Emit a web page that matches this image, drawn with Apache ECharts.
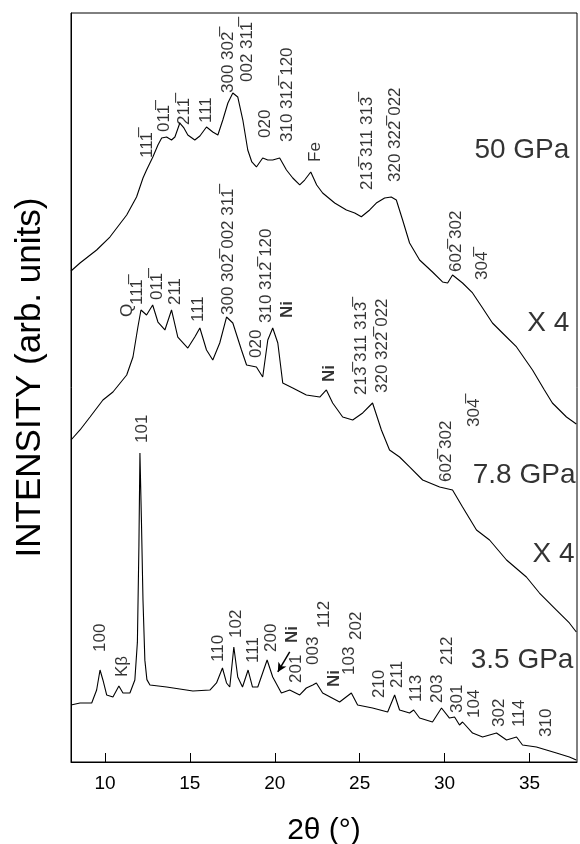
<!DOCTYPE html>
<html>
<head>
<meta charset="utf-8">
<script src="https://cdn.jsdelivr.net/npm/echarts@6/dist/echarts.min.js"></script>
<style>html,body{margin:0;padding:0;background:#fff}#c{width:580px;height:844px}</style>
</head>
<body>
<div id="c"></div>
<script>
// x tick values (2θ, degrees)
const xTicks = [10, 15, 20, 25, 30, 35];

// Curves: [2θ, intensity (arb. units, vertically offset as in the figure)]
const gpa50 = [[8.00,65.55],[8.53,66.62],[9.51,68.36],[10.29,70.09],[11.28,73.03],[11.86,75.43],[12.24,77.97],[12.45,79.04],[12.82,80.77],[13.12,82.38],[13.34,83.31],[13.63,83.44],[13.92,83.04],[14.12,83.44],[14.41,85.31],[14.65,84.65],[14.88,83.71],[15.29,83.04],[15.59,83.58],[15.98,84.78],[16.35,84.11],[16.65,83.71],[16.94,85.71],[17.24,87.98],[17.53,89.32],[17.82,88.79],[18.12,85.71],[18.41,81.71],[18.65,80.11],[18.92,79.44],[19.29,80.64],[19.59,80.37],[19.88,80.37],[20.29,80.64],[20.69,79.04],[21.06,77.97],[21.47,77.04],[21.76,77.70],[22.12,78.77],[22.47,77.04],[22.82,75.97],[23.53,74.63],[24.22,73.70],[24.71,73.30],[25.10,72.80],[25.59,73.70],[25.98,74.63],[26.47,75.30],[26.86,75.43],[27.16,75.03],[27.53,72.36],[27.94,69.29],[28.53,67.02],[29.29,65.42],[29.88,64.09],[30.18,63.95],[30.47,65.02],[31.06,63.95],[31.65,62.62],[32.24,60.61],[32.82,58.61],[33.53,57.01],[34.24,55.41],[35.18,52.34],[35.88,49.67],[36.35,47.93],[37.18,46.06],[37.76,45.13]];

const gpa78 = [[8.00,42.99],[8.53,44.33],[9.12,46.06],[9.88,48.33],[10.47,49.40],[11.28,51.67],[11.65,54.07],[11.94,58.08],[12.12,60.35],[12.45,59.68],[12.81,61.01],[13.12,58.74],[13.53,57.68],[13.92,60.35],[14.29,56.74],[14.88,55.27],[15.29,56.74],[15.59,57.94],[15.98,55.01],[16.35,53.67],[16.76,55.94],[17.16,59.41],[17.53,58.61],[18.04,55.01],[18.34,53.00],[18.92,52.74],[19.29,51.40],[19.59,56.34],[19.88,57.94],[20.18,55.94],[20.47,50.60],[21.06,49.93],[21.86,49.00],[22.65,48.73],[23.04,49.67],[23.41,47.93],[24.00,46.06],[24.59,45.66],[25.18,46.60],[25.76,47.93],[26.28,44.33],[26.76,41.66],[27.35,40.72],[27.94,39.39],[28.71,37.65],[29.71,36.72],[30.47,36.32],[31.06,34.05],[31.88,30.97],[32.65,29.64],[33.65,26.97],[34.82,24.70],[35.59,22.56],[36.59,20.29],[37.35,18.56],[37.76,17.36]];

const gpa35 = [[8.00,7.61],[8.53,7.88],[9.22,7.88],[9.51,9.61],[9.71,12.28],[9.88,10.95],[10.10,8.95],[10.47,8.68],[10.82,10.15],[11.06,9.21],[11.47,9.21],[11.76,10.95],[11.91,16.0],[12.00,28.9],[12.06,41.26],[12.15,32.0],[12.24,21.6],[12.35,13.6],[12.47,11.0],[12.65,10.28],[13.63,10.01],[15.18,9.48],[16.18,9.61],[16.57,10.55],[16.92,12.55],[17.16,10.55],[17.35,10.01],[17.59,15.35],[17.82,11.35],[18.10,10.01],[18.43,12.28],[18.69,10.01],[19.00,10.01],[19.55,13.62],[19.88,11.35],[20.39,9.21],[20.88,9.61],[21.47,8.95],[21.86,9.88],[22.24,10.28],[22.45,10.55],[22.82,9.21],[23.82,8.01],[24.51,9.21],[24.88,7.61],[25.76,7.21],[26.65,6.68],[27.06,8.95],[27.35,6.94],[27.94,6.54],[28.18,6.94],[28.53,5.87],[29.29,5.34],[29.82,7.21],[30.29,5.87],[30.59,6.01],[30.88,4.94],[31.06,5.34],[31.65,3.87],[32.24,3.34],[33.06,3.87],[33.65,2.94],[34.24,3.34],[34.59,2.27],[35.41,2.00],[36.00,1.60],[36.59,1.20],[37.35,0.67],[37.76,0.27]];

// Reflection labels: [2θ, intensity at label foot, text]
const O = '\u0305';
const hkl50 = [[12.47,80.64,'111'+O],[13.47,84.11,'011'+O],[14.65,85.05,'211'+O],[15.94,85.31,'111'],[17.24,89.32,'300 302'+O],[18.41,90.79,'002 311'+O],[19.47,83.31,'020'],[20.71,82.78,'310 312'+O+' 120'],[22.41,80.11,'Fe'],[25.47,76.37,'213'+O+' 311 313'+O],[27.12,77.44,'320 322'+O+' 022'],[30.71,65.42,'602'+O+' 302'],[32.24,64.35,'304'+O]];
const hkl78 = [[11.29,59.41,'Q'],[11.88,61.01,'111'+O],[13.06,61.68,'011'+O],[14.12,61.01,'211'],[15.47,58.74,'111'],[17.29,59.68,'300 302'+O+' 002 311'+O],[18.94,53.94,'020'],[19.53,58.61,'310 312'+O+' 120'],[20.71,59.28,'Ni'],[23.24,50.73,'Ni'],[25.12,49.00,'213'+O+' 311 313'+O],[26.35,49.27,'320 322'+O+' 022'],[30.12,37.38,'602'+O+' 302'],[31.76,44.73,'304'+O]];
const hkl35 = [[12.18,42.59,'101'],[9.71,14.69,'100'],[11.0,11.35,'K\u03b2'],[16.65,13.35,'110'],[17.76,16.56,'102'],[18.71,13.22,'111'],[19.82,14.69,'200'],[21.06,15.89,'Ni'],[21.29,10.55,'201'],[22.29,12.95,'003'],[22.94,17.89,'112'],[23.53,10.01,'Ni'],[24.41,11.62,'103'],[24.82,16.29,'202'],[26.18,8.54,'210'],[27.24,9.88,'211'],[28.35,8.01,'113'],[29.59,7.88,'203'],[30.18,12.95,'212'],[30.76,6.54,'301'],[31.76,5.87,'104'],[33.24,4.67,'302'],[34.41,4.67,'114'],[36.0,3.34,'310']];
// Ni arrow (3.5 GPa): from, to
const niArrow = [[20.88,14.69],[20.18,12.02]];
// Curve captions: [2θ right end, intensity, text]
const captions = [[37.35,81.71,'50 GPa'],[37.35,58.61,'X 4'],[37.71,38.32,'7.8 GPa'],[37.65,27.77,'X 4'],[37.59,13.62,'3.5 GPa']];

const FONT = '"Liberation Sans", Arial, Helvetica, sans-serif';
const chart = echarts.init(document.getElementById('c'), null, {renderer: 'canvas'});

function curve(data) {
  return {type: 'line', data: data, symbol: 'none', smooth: false,
    lineStyle: {color: '#000', width: 1.1}, silent: true, z: 3};
}
function hklSeries(rows, extra) {
  return Object.assign({
    type: 'scatter', symbolSize: 1, itemStyle: {color: 'rgba(0,0,0,0)'}, silent: true, z: 4,
    data: rows.map(r => ({value: [r[0], r[1]], name: r[2],
      label: r[2] === 'Ni' ? {fontWeight: 'bold'} : undefined})),
    label: {show: true, formatter: '{b}', position: 'inside', rotate: 90, align: 'left', verticalAlign: 'middle',
      color: '#000', fontSize: 17, fontFamily: FONT}
  }, extra || {});
}

chart.setOption({
  animation: false,
  backgroundColor: '#fff',
  grid: {left: 71, right: 3, top: 13, bottom: 82, outerBoundsMode: 'none', containLabel: false,
    show: true, borderColor: '#000', borderWidth: 1, backgroundColor: 'transparent'},
  xAxis: {
    type: 'value', min: 8, max: 37.8,
    name: '2\u03b8 (\u00b0)', nameLocation: 'middle', nameGap: 54,
    nameTextStyle: {fontSize: 30, color: '#000', fontFamily: FONT},
    axisLine: {show: true, lineStyle: {color: '#000', width: 1}},
    axisTick: {show: true, inside: true, length: 9, customValues: xTicks, lineStyle: {color: '#000', width: 1}},
    axisLabel: {show: true, customValues: xTicks, fontSize: 19, color: '#000', fontFamily: FONT, margin: 12},
    splitLine: {show: false}
  },
  yAxis: {
    type: 'value', min: 0, max: 100,
    name: 'INTENSITY (arb. units)', nameLocation: 'middle', nameGap: 23,
    nameTextStyle: {fontSize: 35, color: '#000', fontFamily: FONT, padding: [0, 0, 0, 20]},
    axisLine: {show: true, lineStyle: {color: '#000', width: 1}},
    axisTick: {show: false}, axisLabel: {show: false}, splitLine: {show: false}
  },
  series: [
    curve(gpa50), curve(gpa78), curve(gpa35),
    hklSeries(hkl50), hklSeries(hkl78),
    hklSeries(hkl35, {
      markLine: {silent: true, symbol: ['none', 'arrow'], symbolSize: [7, 9], label: {show: false},
        lineStyle: {color: '#000', width: 1.5, type: 'solid'},
        data: [[{coord: niArrow[0]}, {coord: niArrow[1]}]]}
    }),
    {type: 'scatter', symbolSize: 1, itemStyle: {color: 'rgba(0,0,0,0)'}, silent: true, z: 4,
      data: captions.map(r => ({value: [r[0], r[1]], name: r[2]})),
      label: {show: true, formatter: '{b}', position: 'inside', align: 'right', verticalAlign: 'middle',
        color: '#000', fontSize: 28, fontFamily: FONT}}
  ]
});
</script>
</body>
</html>
